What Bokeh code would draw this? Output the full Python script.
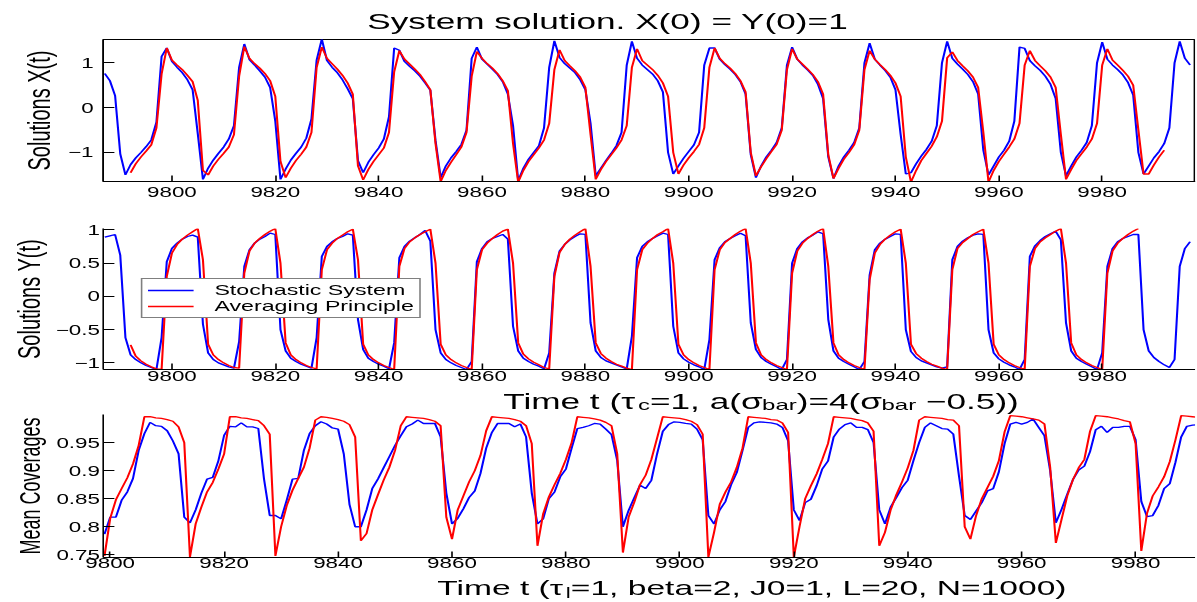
from bokeh.plotting import figure
from bokeh.layouts import column
from bokeh.models import Range1d, FixedTicker, Label, Legend, LegendItem, InlineStyleSheet
from bokeh.embed import file_html
from bokeh.resources import INLINE

# ---------------- data ----------------
T0_X_BLUE = 9787
T0_X_RED = 9792
T0_Y_BLUE = 9787
T0_Y_RED = 9792
T0_COV = 9799

x_blue = [0.76, 0.60, 0.27, -1.03, -1.50,
          -1.27, -1.12, -1.00, -0.87, -0.72, -0.32, 1.14, 1.33,
          1.03, 0.90, 0.78, 0.62, 0.40, -0.58, -1.60,
          -1.35, -1.17, -1.02, -0.88, -0.70, -0.40, 0.90, 1.42,
          1.07, 0.95, 0.82, 0.68, 0.45, -0.30, -1.60,
          -1.37, -1.17, -1.02, -0.88, -0.68, -0.25, 1.06, 1.53,
          1.05, 0.90, 0.78, 0.62, 0.42, 0.20, -1.18, -1.45,
          -1.22, -1.05, -0.90, -0.70, -0.20, 1.33,
          1.28, 1.03, 0.92, 0.82, 0.70, 0.55, 0.39, -0.73, -1.56,
          -1.30, -1.12, -0.98, -0.82, -0.50, 1.10, 1.35,
          1.08, 0.97, 0.86, 0.74, 0.58, 0.30, -0.40, -1.63,
          -1.35, -1.15, -1.00, -0.85, -0.45, 0.90, 1.49,
          1.12, 0.98, 0.88, 0.78, 0.62, 0.40, -0.35, -1.52,
          -1.35, -1.18, -1.02, -0.85, -0.55, 0.95, 1.48,
          1.10, 0.95, 0.85, 0.75, 0.60, 0.35, -1.00, -1.48,
          -1.30, -1.13, -0.98, -0.83, -0.55, 0.95, 1.33, 1.33,
          1.08, 0.96, 0.86, 0.74, 0.58, 0.30, -1.05, -1.56,
          -1.30, -1.10, -0.95, -0.78, -0.45, 0.95, 1.35,
          1.08, 0.95, 0.84, 0.72, 0.52, 0.20, -1.10, -1.58,
          -1.30, -1.10, -0.95, -0.78, -0.45, 1.00, 1.44,
          1.08, 0.95, 0.83, 0.68, 0.40, -0.60, -1.48, -1.45,
          -1.25, -1.08, -0.93, -0.75, -0.40, 1.00, 1.48,
          1.10, 0.97, 0.86, 0.74, 0.58, 0.30, -0.95, -1.50,
          -1.30, -1.10, -0.95, -0.75, -0.30, 1.35, 1.32,
          1.05, 0.93, 0.83, 0.70, 0.52, 0.20, -1.00, -1.52,
          -1.30, -1.10, -0.95, -0.78, -0.40, 1.00, 1.46,
          1.08, 0.95, 0.85, 0.73, 0.56, 0.28, -1.00, -1.48,
          -1.30, -1.12, -0.98, -0.80, -0.45, 1.00, 1.48,
          1.10, 0.95]

x_red = [-1.45, -1.25, -1.10, -0.97, -0.83, -0.45, 0.75, 1.33,
         1.06, 0.95, 0.85, 0.72, 0.58, 0.16, -1.40, -1.50,
         -1.30, -1.15, -1.02, -0.88, -0.60, 0.70, 1.36,
         1.10, 0.98, 0.88, 0.76, 0.60, 0.25, -1.20, -1.56,
         -1.35, -1.18, -1.04, -0.88, -0.55, 0.90, 1.35,
         1.10, 0.98, 0.86, 0.72, 0.55, 0.30, -1.30, -1.61,
         -1.38, -1.20, -1.05, -0.90, -0.55, 0.80, 1.27,
         1.08, 0.97, 0.86, 0.74, 0.58, 0.40, -0.80, -1.65,
         -1.40, -1.22, -1.05, -0.88, -0.55, 0.70, 1.25,
         1.10, 0.98, 0.88, 0.76, 0.60, 0.38, -0.80, -1.66,
         -1.40, -1.20, -1.05, -0.90, -0.72, -0.35, 0.85, 1.29,
         1.05, 0.93, 0.82, 0.68, 0.45, -0.60, -1.60,
         -1.38, -1.20, -1.05, -0.90, -0.72, -0.40, 0.90, 1.31,
         1.05, 0.95, 0.85, 0.72, 0.55, 0.25, -1.00, -1.48,
         -1.28, -1.12, -0.98, -0.82, -0.45, 0.90, 1.33,
         1.10, 0.98, 0.88, 0.76, 0.60, 0.35, -1.00, -1.52,
         -1.32, -1.14, -0.98, -0.82, -0.50, 0.85, 1.31,
         1.08, 0.97, 0.86, 0.74, 0.58, 0.30, -1.05, -1.58,
         -1.35, -1.15, -1.00, -0.83, -0.50, 0.85, 1.27,
         1.08, 0.96, 0.85, 0.72, 0.55, 0.25, -1.10, -1.66,
         -1.40, -1.18, -1.02, -0.86, -0.65, -0.30, 1.11, 1.24,
         1.05, 0.93, 0.82, 0.68, 0.45, -0.55, -1.66,
         -1.40, -1.20, -1.04, -0.88, -0.70, -0.35, 0.95, 1.27,
         1.05, 0.93, 0.82, 0.68, 0.45, -0.60, -1.60,
         -1.38, -1.18, -1.03, -0.88, -0.70, -0.35, 0.95, 1.31,
         1.06, 0.95, 0.83, 0.70, 0.50, -0.50, -1.48,
         -1.48, -1.28, -1.10, -0.95]

y_blue = [0.89, 0.91, 0.93, 0.62,
          -0.62, -0.88, -0.95, -1.00, -1.04, -1.07, -1.10, -0.62, 0.52, 0.72, 0.80, 0.86, 0.90, 0.92, 0.89,
          -0.42, -0.85, -0.95, -1.00, -1.03, -1.06, -1.08, -0.68, 0.45, 0.70, 0.80, 0.86, 0.90, 0.95, 0.93,
          -0.50, -0.82, -0.93, -0.98, -1.02, -1.05, -1.08, -0.62, 0.60, 0.75, 0.82, 0.87, 0.90, 0.94, 0.92,
          -0.35, -0.80, -0.93, -0.98, -1.02, -1.05, -1.09, -0.70, 0.58, 0.75, 0.83, 0.88, 0.93, 0.99, 0.83,
          -0.50, -0.85, -0.95, -1.00, -1.04, -1.07, -1.10, -0.98, 0.52, 0.72, 0.82, 0.87, 0.90, 0.93, 0.86,
          -0.45, -0.82, -0.93, -0.98, -1.02, -1.05, -1.09, -0.85, 0.35, 0.68, 0.78, 0.85, 0.90, 0.94, 0.93,
          -0.40, -0.82, -0.92, -0.97, -1.00, -1.03, -1.06, -1.09, -0.60, 0.58, 0.75, 0.82, 0.87, 0.91, 0.95, 0.93,
          -0.45, -0.85, -0.94, -0.99, -1.03, -1.06, -1.10, -0.65, 0.55, 0.73, 0.82, 0.87, 0.91, 0.95, 0.91,
          -0.40, -0.80, -0.92, -0.98, -1.02, -1.06, -1.10, -0.95, 0.50, 0.72, 0.82, 0.88, 0.92, 0.97, 0.94,
          -0.35, -0.82, -0.93, -0.98, -1.02, -1.06, -1.10, -0.98, 0.32, 0.70, 0.80, 0.86, 0.90, 0.94, 0.93,
          -0.50, -0.83, -0.92, -0.97, -1.00, -1.03, -1.06, -1.08, -1.06, 0.55, 0.75, 0.83, 0.88, 0.92, 0.94, 0.93,
          -0.50, -0.85, -0.94, -0.99, -1.03, -1.06, -1.10, -0.95, 0.60, 0.76, 0.84, 0.90, 0.94, 0.98, 0.85,
          -0.40, -0.82, -0.93, -0.98, -1.02, -1.06, -1.10, -0.85, 0.45, 0.72, 0.82, 0.87, 0.90, 0.93, 0.93,
          -0.50, -0.82, -0.92, -0.98, -1.03, -1.07, -0.95, 0.45, 0.72, 0.82]

y_red = [-0.73, -0.90, -0.97, -1.02, -1.06, -1.09, -1.10, 0.30, 0.65, 0.78, 0.86, 0.92, 0.97, 1.02, 0.55,
         -0.72, -0.88, -0.95, -1.00, -1.04, -1.07, -1.08, 0.35, 0.68, 0.80, 0.87, 0.93, 0.98, 1.02, 0.50,
         -0.70, -0.88, -0.95, -1.00, -1.04, -1.07, -1.09, 0.40, 0.70, 0.80, 0.87, 0.92, 0.97, 1.01, 0.55,
         -0.72, -0.88, -0.95, -1.00, -1.04, -1.07, -1.10, 0.45, 0.72, 0.82, 0.88, 0.93, 0.97, 1.01, 0.50,
         -0.72, -0.88, -0.95, -1.00, -1.04, -1.07, -1.10, 0.40, 0.70, 0.80, 0.87, 0.93, 0.98, 1.01, 0.50,
         -0.70, -0.87, -0.94, -0.99, -1.03, -1.07, -1.09, 0.30, 0.66, 0.78, 0.86, 0.92, 0.97, 1.02, 0.45,
         -0.70, -0.86, -0.93, -0.98, -1.02, -1.05, -1.08, -1.10, 0.40, 0.70, 0.80, 0.87, 0.93, 0.97, 1.02, 0.50,
         -0.72, -0.88, -0.95, -1.00, -1.04, -1.07, -1.10, 0.40, 0.70, 0.81, 0.87, 0.93, 0.98, 1.02, 0.50,
         -0.70, -0.88, -0.95, -1.00, -1.04, -1.07, -1.10, 0.35, 0.68, 0.80, 0.87, 0.93, 0.98, 1.02, 0.45,
         -0.70, -0.88, -0.95, -1.00, -1.04, -1.07, -1.10, 0.25, 0.65, 0.78, 0.86, 0.92, 0.97, 1.01, 0.50,
         -0.72, -0.86, -0.93, -0.98, -1.02, -1.05, -1.08, -1.10, 0.40, 0.72, 0.81, 0.87, 0.93, 0.97, 1.01, 0.50,
         -0.72, -0.88, -0.95, -1.00, -1.04, -1.07, -1.10, 0.45, 0.72, 0.82, 0.88, 0.93, 0.98, 1.02, 0.50,
         -0.70, -0.88, -0.95, -1.00, -1.04, -1.07, -1.10, 0.35, 0.68, 0.80, 0.87, 0.93, 0.98, 1.02]

cov_blue = [0.787, 0.817, 0.817, 0.847, 0.862, 0.886, 0.936, 0.966, 0.986, 0.980,
            0.979, 0.971, 0.953, 0.930, 0.817, 0.807, 0.830, 0.860, 0.885, 0.888,
            0.918, 0.963, 0.979, 0.978, 0.985, 0.978, 0.978, 0.975, 0.885, 0.820,
            0.820, 0.814, 0.848, 0.885, 0.886, 0.936, 0.966, 0.980, 0.987, 0.983,
            0.976, 0.974, 0.930, 0.840, 0.800, 0.800, 0.830, 0.868, 0.885, 0.905,
            0.925, 0.945, 0.962, 0.978, 0.983, 0.990, 0.984, 0.984, 0.984, 0.960,
            0.860, 0.805, 0.815, 0.832, 0.852, 0.864, 0.895, 0.940, 0.968, 0.984,
            0.984, 0.984, 0.978, 0.983, 0.960, 0.860, 0.805, 0.814, 0.850, 0.862,
            0.889, 0.903, 0.940, 0.975, 0.977, 0.980, 0.984, 0.983, 0.974, 0.964,
            0.918, 0.800, 0.829, 0.852, 0.874, 0.868, 0.883, 0.930, 0.970, 0.982,
            0.987, 0.986, 0.984, 0.983, 0.974, 0.955, 0.820, 0.805, 0.830, 0.845,
            0.875, 0.897, 0.936, 0.977, 0.985, 0.987, 0.986, 0.985, 0.983, 0.977,
            0.953, 0.830, 0.811, 0.843, 0.849, 0.873, 0.903, 0.917, 0.960, 0.974,
            0.982, 0.985, 0.977, 0.977, 0.973, 0.950, 0.830, 0.805, 0.835, 0.852,
            0.870, 0.883, 0.918, 0.950, 0.977, 0.985, 0.980, 0.975, 0.974, 0.965,
            0.890, 0.820, 0.813, 0.828, 0.843, 0.864, 0.868, 0.898, 0.948, 0.983,
            0.986, 0.983, 0.986, 0.992, 0.977, 0.962, 0.900, 0.807, 0.831, 0.858,
            0.884, 0.901, 0.908, 0.934, 0.973, 0.979, 0.968, 0.977, 0.977, 0.979,
            0.979, 0.955, 0.845, 0.818, 0.820, 0.838, 0.868, 0.877, 0.915, 0.960,
            0.979, 0.981, 0.982]

cov_red = [0.748, 0.815, 0.848, 0.868, 0.887, 0.912, 0.945, 0.996, 0.996, 0.994,
           0.993, 0.991, 0.988, 0.978, 0.950, 0.746, 0.805, 0.835, 0.862, 0.879,
           0.903, 0.930, 0.996, 0.996, 0.994, 0.993, 0.991, 0.989, 0.980, 0.965,
           0.748, 0.800, 0.838, 0.865, 0.886, 0.906, 0.940, 0.990, 0.996, 0.995,
           0.993, 0.991, 0.988, 0.982, 0.960, 0.775, 0.788, 0.830, 0.857, 0.883,
           0.906, 0.936, 0.980, 0.996, 0.995, 0.994, 0.993, 0.991, 0.988, 0.980,
           0.817, 0.778, 0.830, 0.855, 0.880, 0.900, 0.927, 0.971, 0.996, 0.995,
           0.994, 0.993, 0.991, 0.988, 0.980, 0.948, 0.766, 0.823, 0.853, 0.875,
           0.895, 0.920, 0.950, 0.996, 0.995, 0.994, 0.992, 0.990, 0.986, 0.980,
           0.930, 0.754, 0.817, 0.844, 0.875, 0.892, 0.920, 0.958, 0.996, 0.995,
           0.994, 0.993, 0.991, 0.988, 0.982, 0.965, 0.746, 0.790, 0.840, 0.862,
           0.880, 0.906, 0.940, 0.996, 0.995, 0.994, 0.993, 0.991, 0.990, 0.985,
           0.968, 0.746, 0.800, 0.850, 0.873, 0.894, 0.920, 0.948, 0.996, 0.995,
           0.994, 0.993, 0.991, 0.989, 0.985, 0.970, 0.766, 0.790, 0.830, 0.857,
           0.880, 0.905, 0.936, 0.990, 0.996, 0.995, 0.994, 0.993, 0.991, 0.990,
           0.980, 0.800, 0.778, 0.820, 0.850, 0.870, 0.890, 0.918, 0.969, 0.998,
           0.997, 0.996, 0.994, 0.992, 0.990, 0.983, 0.906, 0.771, 0.813, 0.855,
           0.884, 0.905, 0.920, 0.970, 0.998, 0.997, 0.996, 0.994, 0.992, 0.989,
           0.987, 0.948, 0.757, 0.824, 0.855, 0.871, 0.889, 0.916, 0.955, 0.998,
           0.997, 0.996, 0.995]

time_ticks = [9800, 9820, 9840, 9860, 9880, 9900, 9920, 9940, 9960, 9980]
x_yticks = [-1, 0, 1]
y_yticks = [-1, -0.5, 0, 0.5, 1]
cov_yticks = [0.75, 0.8, 0.85, 0.9, 0.95]
x_ylabels = {-1: "\u22121", 0: "0", 1: "1"}
y_ylabels = {-1: "\u22121", -0.5: "\u22120.5", 0: "0", 0.5: "0.5", 1: "1"}
cov_ylabels = {0.75: "0.75", 0.8: "0.8", 0.85: "0.85", 0.9: "0.9", 0.95: "0.95"}

title_text = "System solution. X(0) = Y(0)=1"
xlabel2_parts = [("Time t (\u03c4", False, 0), ("c", True, 0), ("=1, a(\u03c3", False, 0),
                 ("bar", True, 0), (")=4(\u03c3", False, 0), ("bar", True, 0), ("\u22120.5))", False, 1)]
xlabel3_parts = [("Time t (\u03c4", False, 0), ("l", True, 0),
                 ("=1, beta=2, J0=1, L=20, N=1000)", False, 0)]
legend_labels = ["Stochastic System", "Averaging Principle"]

BLUE = "#0000ff"
RED = "#ff0000"
FONT = "Liberation Sans"

# ---------------- layout helpers ----------------
# The reference picture is stretched horizontally by ~1.6.  Bokeh measures the
# transformed box, so the model width is divided by the stretch once more.
S = 1.6
W_MODEL = 467               # gives a layout width of ~747 units -> 1195 px on the page
LEFT = 64


def times(t0, vals):
    return [t0 + i for i in range(len(vals))]


CW = {' ': 0.278, '(': 0.333, ')': 0.333, ',': 0.278, '.': 0.278, '=': 0.584,
      '\u2212': 0.584, 'T': 0.611, 'i': 0.222, 'm': 0.833, 'e': 0.556, 't': 0.278,
      'a': 0.556, 'b': 0.556, 'r': 0.333, 'J': 0.5, 'L': 0.556, 'N': 0.722,
      'l': 0.222, 'c': 0.5, '\u03c4': 0.44, '\u03c3': 0.60}


def tw(s, size):
    return sum(CW.get(ch, 0.556) for ch in s) * size


def make_fig(h, xr, yr, bt, bb, outline):
    p = figure(width=W_MODEL, height=h, x_range=Range1d(*xr), y_range=Range1d(*yr),
               output_backend="svg", toolbar_location=None,
               min_border_left=LEFT, min_border_right=0,
               min_border_top=bt, min_border_bottom=bb)
    p.grid.visible = False
    p.background_fill_color = "white"
    p.border_fill_color = "white"
    p.outline_line_color = "black" if outline else None
    for ax in (p.xaxis[0], p.yaxis[0]):
        ax.major_tick_out = 0
        ax.minor_tick_line_color = None
        ax.axis_line_color = "black"
        ax.major_tick_line_color = "black"
        ax.major_label_text_font = FONT
        ax.major_label_text_font_size = "14px"
        ax.major_label_text_color = "black"
        ax.axis_label_text_font = FONT
        ax.axis_label_text_font_style = "normal"
        ax.axis_label_text_font_size = "20px"
        ax.axis_label_text_color = "black"
    p.xaxis.major_tick_in = 6
    p.yaxis.major_tick_in = 7
    p.xaxis.ticker = FixedTicker(ticks=time_ticks)
    return p


def text_strip(h, parts, xoff, base, size, sub_size, sub_drop):
    """A thin figure with no axes and no title that only carries a label with subscripts."""
    s = figure(width=W_MODEL, height=h, x_range=Range1d(0, 1), y_range=Range1d(0, h),
               title=None, output_backend="svg", toolbar_location=None,
               x_axis_location=None, y_axis_location=None,
               min_border=0, min_border_left=0, min_border_right=0,
               min_border_top=0, min_border_bottom=0)
    s.grid.visible = False
    s.outline_line_color = None
    s.background_fill_color = "white"
    s.border_fill_color = "white"
    x = xoff
    for txt, sub, gap in parts:
        sz = sub_size if sub else size
        x += gap * tw(" ", size)
        s.add_layout(Label(x=0, y=base - (sub_drop if sub else 0), x_offset=x,
                           text=txt, text_font=FONT, text_font_size=f"{sz}px",
                           text_baseline="alphabetic", text_align="left",
                           text_color="black"))
        x += tw(txt, sz)
    return s


# ---------------- panel 1 : X(t) ----------------
p1 = make_fig(208, (9786.7, 9998.15), (-1.647, 1.52), 39, 27, True)
p1.yaxis.ticker = FixedTicker(ticks=x_yticks)
p1.yaxis.major_label_overrides = x_ylabels
p1.yaxis.major_label_standoff = 6
p1.xaxis.major_label_standoff = 6
p1.yaxis.axis_label = "Solutions X(t)"
p1.yaxis.axis_label_standoff = 4
p1.line(times(T0_X_BLUE, x_blue), x_blue, line_color=BLUE, line_width=1.3)
p1.line(times(T0_X_RED, x_red), x_red, line_color=RED, line_width=1.3)
p1.title.text = title_text
p1.title.align = "left"
p1.title.offset = 165
p1.title.text_font = FONT
p1.title.text_font_size = "22px"
p1.title.text_font_style = "normal"
p1.title.text_color = "black"
p1.title.vertical_align = "bottom"
p1.title.standoff = 12

# ---------------- panel 2 : Y(t) ----------------
p2 = make_fig(179, (9786.7, 9998.15), (-1.10, 1.02), 20, 18, False)
p2.yaxis.ticker = FixedTicker(ticks=y_yticks)
p2.yaxis.major_label_overrides = y_ylabels
p2.yaxis.major_label_standoff = 2
p2.xaxis.major_label_standoff = 2
p2.yaxis.axis_label = "Solutions Y(t)"
p2.yaxis.axis_label_standoff = 3
rb = p2.line(times(T0_Y_BLUE, y_blue), y_blue, line_color=BLUE, line_width=1.3)
rr = p2.line(times(T0_Y_RED, y_red), y_red, line_color=RED, line_width=1.3)
leg = Legend(items=[LegendItem(label=legend_labels[0], renderers=[rb]),
                    LegendItem(label=legend_labels[1], renderers=[rr])],
             location=(24, 51))
leg.border_line_color = "black"
leg.border_line_width = 1
leg.background_fill_color = "white"
leg.background_fill_alpha = 1
leg.label_text_font = FONT
leg.label_text_font_size = "14.5px"
leg.label_text_color = "black"
leg.padding = 3
leg.spacing = 0
leg.margin = 0
leg.glyph_width = 29
leg.glyph_height = 14
leg.label_height = 14
leg.label_standoff = 13
p2.add_layout(leg)

# x label of panel 2, in its own strip between panel 2 and panel 3
s2 = text_strip(27, xlabel2_parts, 250, 13.3, 22, 15, 3.8)

# ---------------- panel 3 : mean coverages ----------------
p3 = make_fig(160, (9798.77, 9990.6), (0.7452, 1.0), 0, 17, False)
p3.yaxis.ticker = FixedTicker(ticks=cov_yticks)
p3.yaxis.major_label_overrides = cov_ylabels
p3.yaxis.major_label_standoff = 2
p3.xaxis.major_label_standoff = 1
p3.yaxis.axis_label = "Mean Coverages"
p3.yaxis.axis_label_text_font_size = "18px"
p3.yaxis.axis_label_standoff = 3
p3.line(times(T0_COV, cov_blue), cov_blue, line_color=BLUE, line_width=1.3)
p3.line(times(T0_COV, cov_red), cov_red, line_color=RED, line_width=1.3)

# x label of panel 3
s3 = text_strip(28, xlabel3_parts, 208.75, 15.3, 21, 14, 5.5)

stretch = InlineStyleSheet(css=f":host {{ transform: scaleX({S}); transform-origin: 0 0; }}")
layout = column(p1, p2, s2, p3, s3, spacing=0, stylesheets=[stretch])

open("out.html", "w").write(file_html(layout, INLINE))
